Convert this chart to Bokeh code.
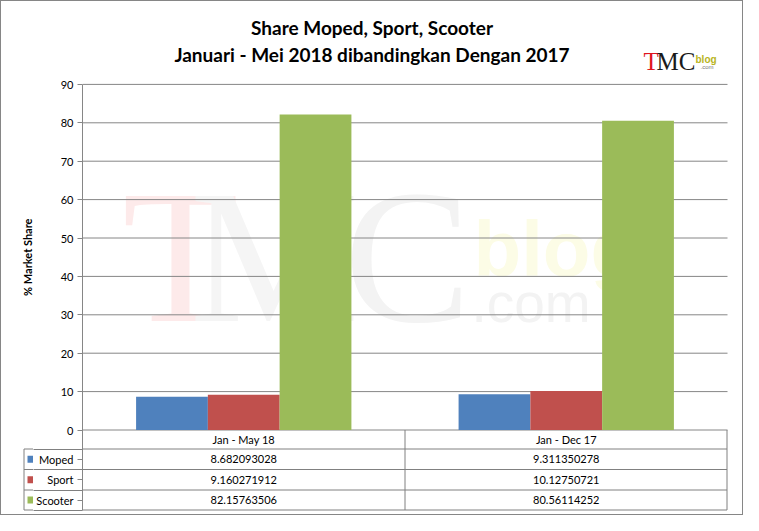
import math
from bokeh.plotting import figure
from bokeh.models import Range1d, FixedTicker, ColumnDataSource
from bokeh.layouts import row
from bokeh.core.properties import value
from bokeh.embed import file_html
from bokeh.resources import INLINE

# ---------------- data ----------------
categories = ["Jan - May 18", "Jan - Dec 17"]
series = ["Moped", "Sport", "Scooter"]
moped = [8.682093028, 9.311350278]
sport = [9.160271912, 10.12750721]
scooter = [82.15763506, 80.56114252]
moped_text = ["8.682093028", "9.311350278"]
sport_text = ["9.160271912", "10.12750721"]
scooter_text = ["82.15763506", "80.56114252"]
y_ticks = [0, 10, 20, 30, 40, 50, 60, 70, 80, 90]
colors = ["#4F81BD", "#C0504D", "#9BBB59"]
title_lines = ["Share Moped, Sport, Scooter", "Januari - Mei 2018 dibandingkan Dengan 2017"]
y_title = "% Market Share"

# ---------------- layout (px, inside the 1px outer border) ----------------
W, H = 741, 513
LW = 32                      # left strip width
FL, FR = 81, 726             # plot area left/right
Y0 = 428.5                   # y of value 0
ppu = 3.84                   # px per unit
rows = [447.5, 468, 488.5, 508.5]   # bottom edges of table rows
LC = 22.5                    # left edge of series-name column
GRAY = "#868686"
TGRAY = "#808080"
FONT = "Lato"
ncat = len(categories)
cat_x = [i + 0.5 for i in range(ncat)]
cw = (FR - FL) / ncat


def yd(px):
    return (Y0 - px) / ppu


row_tops = [Y0] + rows[:-1]
row_mid = [(a + b) / 2 for a, b in zip(row_tops, rows)]

# ================= main figure =================
p = figure(width=W - LW, height=H, x_range=Range1d(0, (W - FL) / cw),
           y_range=Range1d(yd(H), yd(0)), output_backend="svg", toolbar_location=None,
           x_axis_location=None, min_border_left=FL - LW, min_border_right=0,
           min_border_top=0, min_border_bottom=0)
p.extra_x_ranges = {"px": Range1d(FL, W)}
p.extra_y_ranges = {"py": Range1d(H, 0)}
p.outline_line_color = None
p.border_fill_color = "white"
p.xgrid.visible = False
p.ygrid.visible = False

series_ticks = [yd(m) for m in row_mid[1:]]
overrides = {float(v): str(v) for v in y_ticks}
for v, name in zip(series_ticks, series):
    overrides[v] = name

ax = p.yaxis[0]
ax.ticker = FixedTicker(ticks=[float(v) for v in y_ticks] + series_ticks,
                        minor_ticks=[yd(r) for r in rows])
ax.major_label_overrides = overrides
ax.bounds = (yd(rows[-1] + 0.5), 90)
ax.axis_line_color = GRAY
ax.major_tick_line_color = GRAY
ax.major_tick_out = 5
ax.major_tick_in = 0
ax.minor_tick_line_color = TGRAY
ax.minor_tick_out = FL - LW
ax.minor_tick_in = 0
ax.major_label_standoff = -40
ax.major_label_text_font = FONT
ax.major_label_text_font_size = "11px"
ax.major_label_text_color = "black"

# watermark
wm = ColumnDataSource(dict(x=[179, 273, 406], y=[255, 255, 255], t=["T", "M", "C"],
                           c=["#fdeaea", "#f5f5f5", "#f3f3f3"]))
p.text(x="x", y="y", text="t", text_color="c", source=wm, x_range_name="px", y_range_name="py",
       text_font=value("Liberation Serif"), text_font_size="190px", text_align="center",
       text_baseline="middle", level="image")
p.text(x=[472], y=[247], text=["blog"], text_color="#fcfce6", x_range_name="px", y_range_name="py",
       text_font=value("Liberation Sans"), text_font_style="bold", text_font_size="78px",
       text_baseline="middle", level="image")
p.text(x=[470], y=[301], text=[".com"], text_color="#f3f3f3", x_range_name="px", y_range_name="py",
       text_font=value("Liberation Sans"), text_font_size="55px",
       text_baseline="middle", level="image")

# grid lines at the y ticks
p.segment(x0=[FL] * len(y_ticks), y0=y_ticks, x1=[FR] * len(y_ticks), y1=y_ticks,
          x_range_name="px", line_color=GRAY, line_width=1, level="underlay")

# bars
bw = 73 / 328
for vals, off, col in zip([moped, sport, scooter], [-bw, 0, bw], colors):
    src = ColumnDataSource(dict(x=[c + off for c in cat_x], v=vals))
    p.vbar(x="x", top="v", bottom=0, width=bw, source=src, fill_color=col, line_color=None)

# titles
p.text(x=[W / 2] * 2, y=[26, 52.5], text=title_lines, x_range_name="px", y_range_name="py",
       text_font=value(FONT), text_font_style="bold", text_font_size="19px", text_color="black",
       text_align="center", text_baseline="middle")

# logo
p.text(x=[642], y=[59.5], text=["T"], x_range_name="px", y_range_name="py",
       text_font=value("Liberation Serif"), text_font_size="25px", text_color="#e0141e",
       text_baseline="middle")
p.text(x=[655], y=[59.5], text=["MC"], x_range_name="px", y_range_name="py",
       text_font=value("Liberation Serif"), text_font_size="25px", text_color="#1a1a1a",
       text_baseline="middle")
p.text(x=[694], y=[58], text=["blog"], x_range_name="px", y_range_name="py",
       text_font=value("Liberation Sans"), text_font_style="bold", text_font_size="10px",
       text_color="#b8b41c", text_baseline="middle")
p.text(x=[699], y=[65], text=[".com"], x_range_name="px", y_range_name="py",
       text_font=value("Liberation Sans"), text_font_size="6px", text_color="#777777",
       text_baseline="middle")

# data table (inside plot area)
p.segment(x0=[FL] * len(rows), y0=rows, x1=[FR - 0.5] * len(rows), y1=rows,
          x_range_name="px", y_range_name="py", line_color=TGRAY, line_width=1)
p.segment(x0=[(FL + FR) / 2, FR - 0.5], y0=[Y0] * 2, x1=[(FL + FR) / 2, FR - 0.5], y1=[rows[-1]] * 2,
          x_range_name="px", y_range_name="py", line_color=TGRAY, line_width=1)
table_rows = [categories, moped_text, sport_text, scooter_text]
for texts, cy in zip(table_rows, row_mid):
    p.text(x=cat_x, y=[cy] * ncat, text=texts, y_range_name="py", text_font=value(FONT),
           text_font_size="11px", text_color="black", text_align="center", text_baseline="middle")

# ================= left strip =================
lf = figure(width=LW, height=H, x_range=Range1d(0, LW), y_range=Range1d(H, 0),
            output_backend="svg", toolbar_location=None, x_axis_location=None,
            y_axis_location=None, min_border_left=0, min_border_right=0,
            min_border_top=0, min_border_bottom=0)
lf.outline_line_color = None
lf.xgrid.visible = False
lf.ygrid.visible = False
lf.border_fill_color = "white"
lf.segment(x0=[LC] * len(rows), y0=rows, x1=[LW] * len(rows), y1=rows, line_color=TGRAY, line_width=1)
lf.segment(x0=[LC], y0=[row_tops[1]], x1=[LC], y1=[rows[-1]], line_color=TGRAY, line_width=1)
for cy, col in zip(row_mid[1:], colors):
    lf.quad(left=[LC + 3.5], right=[LW], top=[cy - 3.5], bottom=[cy + 3.5], fill_color=col, line_color=None)
lf.text(x=[25.5], y=[(Y0 - 90 * ppu + Y0) / 2], text=[y_title], angle=math.pi / 2,
        text_font=value(FONT), text_font_style="bold", text_font_size="11px", text_color="black",
        text_align="center", text_baseline="middle")

layout = row(lf, p, spacing=0, styles={"border": "1px solid #868686"})
open("out.html", "w").write(file_html(layout, INLINE))
